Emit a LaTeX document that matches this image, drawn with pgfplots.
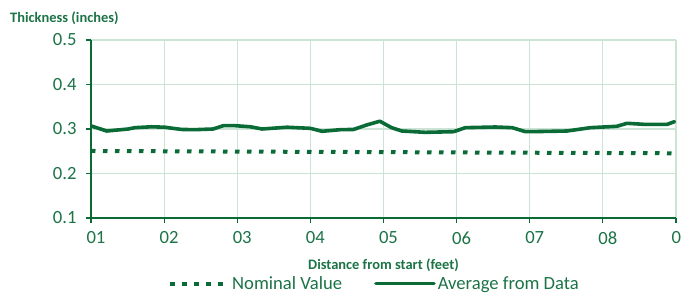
\documentclass[border=0pt]{standalone}
\usepackage{pgfplots}
\pgfplotsset{compat=1.18}
\usepackage{fontspec}
\setmainfont{Carlito}
\definecolor{dkgreen}{HTML}{0A6B37}
\definecolor{txtgreen}{HTML}{1B7346}
\definecolor{gridc}{HTML}{CCE4D6}
\begin{document}
\begin{tikzpicture}
\begin{axis}[name=ax, at={(0,0)}, anchor=south west,
  scale only axis, width=585bp, height=178bp,
  xmin=0, xmax=8, ymin=0.1, ymax=0.5,
  xtick={0,1,2,3,4,5,6,7,8},
  xticklabels={01,02,03,04,05,06,07,08,0},
  ytick={0.1,0.2,0.3,0.4,0.5},
  yticklabel style={/pgf/number format/fixed, /pgf/number format/precision=1, /pgf/number format/fixed zerofill},
  /pgf/number format/assume math mode=true,
  grid=major, major grid style={color=gridc, line width=1.2bp},
  axis x line*=bottom, axis y line*=left,
  axis line style={dkgreen, line width=1.3bp, -},
  tick style={dkgreen, line width=1.2bp},
  tick align=outside, major tick length=5bp,
  ticklabel style={text=txtgreen, font=\fontsize{18.7}{20}\selectfont},
  xticklabel style={anchor=north west, xshift=-8bp, yshift=-5bp},
  yticklabel style={xshift=-6bp},
  legend columns=2,
  legend style={at={(0.5,0)}, anchor=center, yshift=-65.5bp, xshift=-9bp, draw=none, fill=none,
    font=\fontsize{18.7}{20}\selectfont, text=txtgreen,
    /tikz/every even column/.append style={column sep=30bp}},
  legend image code/.code={\draw[#1] (0bp,0bp) -- (58bp,0bp);},
]
\addplot[dkgreen, line width=4bp, dash pattern=on 4.5bp off 7.5bp] coordinates {(0,0.2506) (8,0.2454)};
\addlegendentry{Nominal Value}
\addplot[dkgreen, line width=3.6bp, line join=round, line cap=round] coordinates {
(0,0.307) (0.215,0.2955) (0.51,0.300) (0.60,0.303) (0.83,0.305) (1.01,0.304) (1.12,0.3015) (1.24,0.299) (1.42,0.2985) (1.67,0.300) (1.81,0.3075) (1.97,0.3075) (2.18,0.305) (2.34,0.300) (2.68,0.304) (3.00,0.3015) (3.16,0.2948) (3.41,0.2985) (3.59,0.299) (3.77,0.309) (3.95,0.3175) (4.11,0.303) (4.25,0.2955) (4.57,0.2925) (4.96,0.294) (5.12,0.303) (5.53,0.3045) (5.76,0.303) (5.94,0.294) (6.03,0.294) (6.51,0.2955) (6.83,0.303) (7.19,0.306) (7.33,0.3128) (7.56,0.3105) (7.88,0.3105) (7.98,0.3165)
};
\addlegendentry{Average from Data}
\end{axis}
\node[anchor=west, text=txtgreen, font=\fontsize{14.5}{16}\selectfont\bfseries, xshift=-81bp, yshift=22bp, inner sep=0pt] at (ax.north west) {Thickness (inches)};
\node[anchor=center, text=txtgreen, font=\fontsize{14.5}{16}\selectfont\bfseries, yshift=-47bp, inner sep=0pt] at (ax.south) {Distance from start (feet)};
\pgfresetboundingbox
\useasboundingbox (-91bp,-76bp) rectangle (606bp,218bp);
\end{tikzpicture}
\end{document}
